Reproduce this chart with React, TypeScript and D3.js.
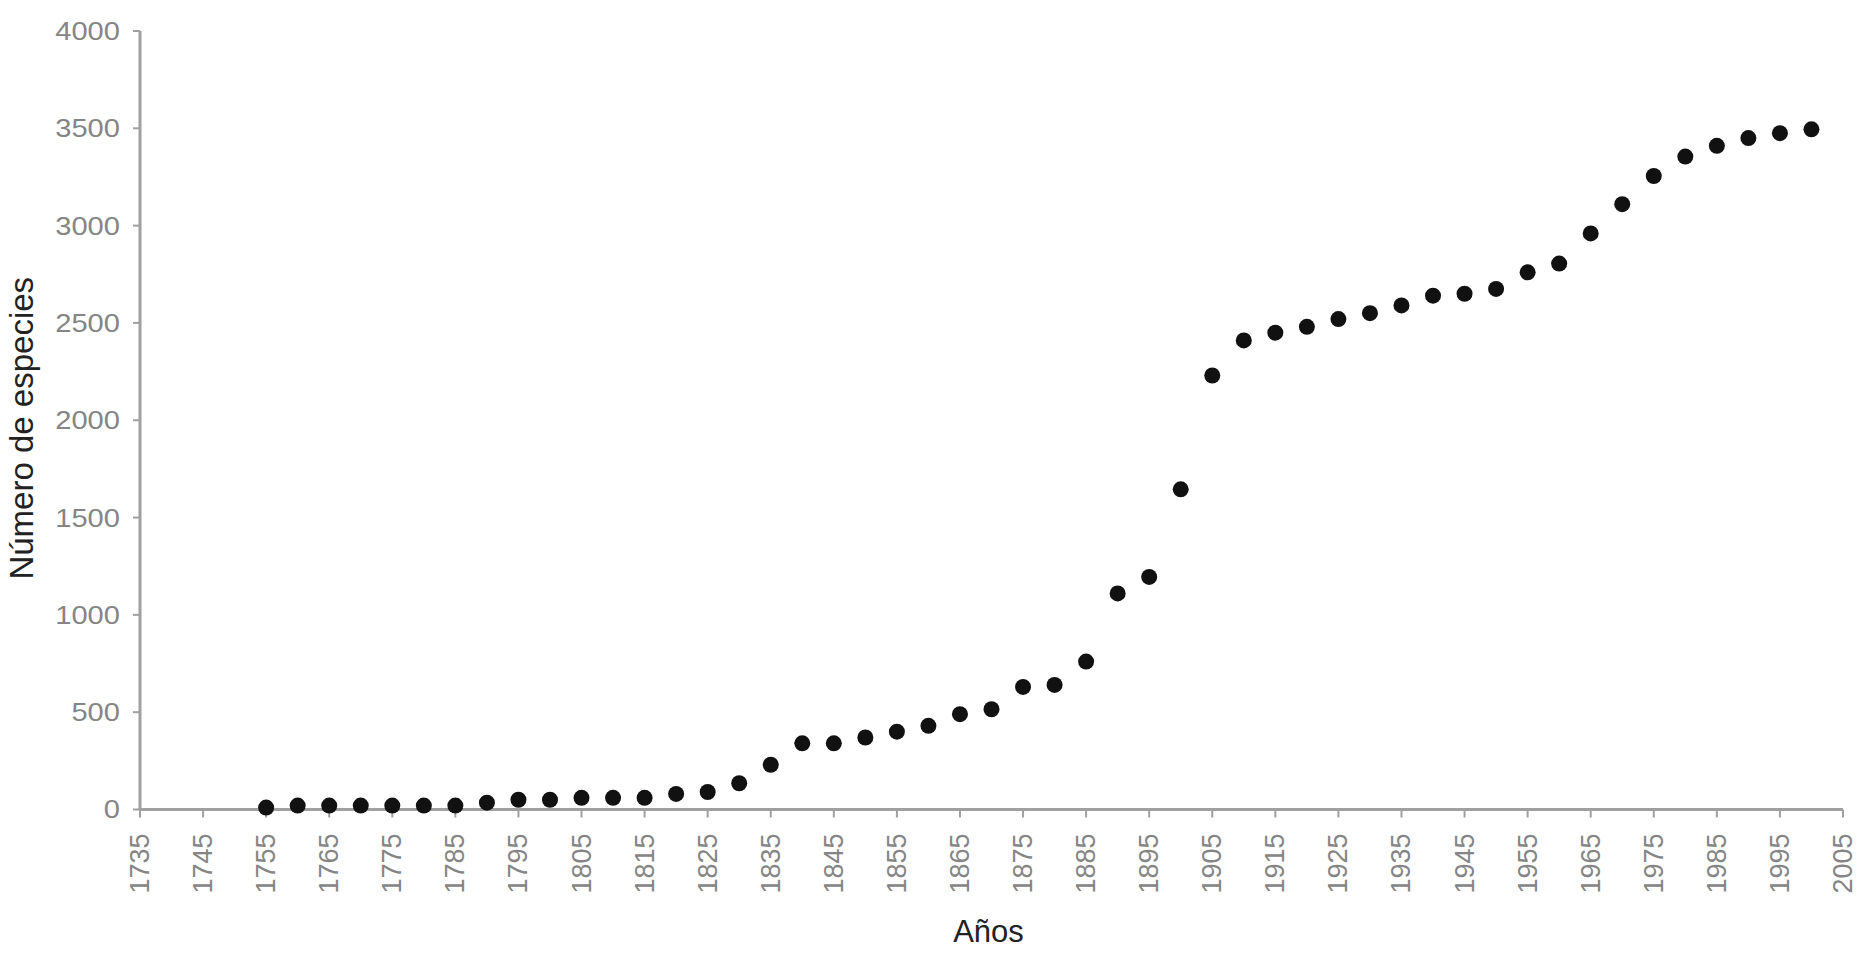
import { useMemo } from "react";
import * as d3 from "d3";

// years with a recorded cumulative count
const years = [
  1755, 1760, 1765, 1770, 1775, 1780, 1785, 1790, 1795, 1800,
  1805, 1810, 1815, 1820, 1825, 1830, 1835, 1840, 1845, 1850,
  1855, 1860, 1865, 1870, 1875, 1880, 1885, 1890, 1895, 1900,
  1905, 1910, 1915, 1920, 1925, 1930, 1935, 1940, 1945, 1950,
  1955, 1960, 1965, 1970, 1975, 1980, 1985, 1990, 1995, 2000,
];

// cumulative number of species
const species = [
  10, 20, 20, 20, 20, 20, 20, 35, 50, 50,
  60, 60, 60, 80, 90, 135, 230, 340, 340, 370,
  400, 430, 490, 515, 630, 640, 760, 1110, 1195, 1645,
  2230, 2410, 2450, 2480, 2520, 2550, 2590, 2640, 2650, 2675,
  2760, 2805, 2960, 3110, 3255, 3355, 3410, 3450, 3475, 3495,
];

const xTicks = d3.range(1735, 2006, 10);
const yTicks = d3.range(0, 4001, 500);

const width = 1866;
const height = 954;
const margin = { top: 31, right: 23, bottom: 144, left: 140 };

const axisColor = "#a0a0a0";
const tickText = "#858585";
const font = "'Liberation Sans', Arial, sans-serif";

const ScatterChart = () => {
  const data = useMemo(
    () => years.map((year, i) => ({ year, value: species[i] })),
    []
  );

  const x = d3
    .scaleLinear()
    .domain([1735, 2005])
    .range([margin.left, width - margin.right]);

  const y = d3
    .scaleLinear()
    .domain([0, 4000])
    .range([height - margin.bottom - 0.5, margin.top]);

  const y0 = y(0);

  return (
    <svg width={width} height={height} style={{ display: "block" }}>
      <rect width={width} height={height} fill="white" />

      {/* y axis */}
      <line
        x1={x(1735)}
        x2={x(1735)}
        y1={y(4000)}
        y2={y0}
        stroke={axisColor}
        strokeWidth={3}
      />
      {yTicks.map((t) => (
        <g key={t}>
          <line
            x1={x(1735) - 7}
            x2={x(1735)}
            y1={y(t)}
            y2={y(t)}
            stroke={axisColor}
            strokeWidth={2}
          />
          <text
            transform={`translate(${x(1735) - 20},${y(t)}) scale(1.12,1)`}
            textAnchor="end"
            dominantBaseline="central"
            fontFamily={font}
            fontSize={26}
            fill={tickText}
          >
            {t}
          </text>
        </g>
      ))}

      {/* x axis */}
      <line
        x1={x(1735)}
        x2={x(2005)}
        y1={y0}
        y2={y0}
        stroke={axisColor}
        strokeWidth={3}
      />
      {xTicks.map((t) => (
        <g key={t}>
          <line
            x1={x(t)}
            x2={x(t)}
            y1={y0}
            y2={y0 + 8}
            stroke={axisColor}
            strokeWidth={2}
          />
          <text
            transform={`translate(${x(t)},${y0 + 24}) rotate(-90)`}
            textAnchor="end"
            dominantBaseline="central"
            fontFamily={font}
            fontSize={27}
            fill={tickText}
          >
            {t}
          </text>
        </g>
      ))}

      {/* points */}
      {data.map((d) => (
        <circle
          key={d.year}
          cx={x(d.year)}
          cy={y(d.value)}
          r={8}
          fill="#111"
        />
      ))}

      {/* axis titles */}
      <text
        transform={`translate(21,${(y(4000) + y0) / 2 + 8}) rotate(-90)`}
        textAnchor="middle"
        dominantBaseline="central"
        fontFamily={font}
        fontSize={33}
        fill="#222"
      >
        Número de especies
      </text>
      <text
        x={(x(1735) + x(2005)) / 2 - 3}
        y={942}
        textAnchor="middle"
        fontFamily={font}
        fontSize={31}
        fill="#222"
      >
        Años
      </text>
    </svg>
  );
};

export default function App() {
  return (
    <div style={{ position: "absolute", top: 0, left: 0 }}>
      <ScatterChart />
    </div>
  );
}
